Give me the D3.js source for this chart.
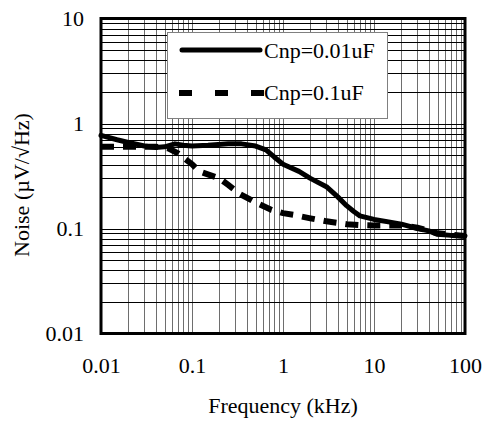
<!DOCTYPE html>
<html><head><meta charset="utf-8">
<script src="https://cdn.jsdelivr.net/npm/d3@7"></script>
<style>
html,body{margin:0;padding:0;background:#fff;}
svg{display:block;}
text{font-family:"Liberation Serif","Times New Roman",serif;fill:#000;}
</style></head>
<body>
<svg id="chart" width="486" height="423"></svg>
<script>
// ---- data ----
const xTickValues = [0.01, 0.1, 1, 10, 100];
const xTickLabels = ["0.01", "0.1", "1", "10", "100"];
const yTickValues = [0.01, 0.1, 1, 10];
const yTickLabels = ["0.01", "0.1", "1", "10"];

const seriesNames = ["Cnp=0.01uF", "Cnp=0.1uF"];

const freqSolid  = [0.01, 0.015, 0.02, 0.03, 0.04, 0.05, 0.065, 0.08, 0.1, 0.15, 0.25, 0.35, 0.5, 0.65, 0.8, 1, 1.5, 2, 3, 4, 5, 6, 7, 10, 15, 20, 30, 40, 50, 70, 100];
const noiseSolid = [0.77, 0.7, 0.66, 0.61, 0.59, 0.6, 0.64, 0.62, 0.61, 0.62, 0.64, 0.64, 0.61, 0.56, 0.48, 0.41, 0.35, 0.3, 0.25, 0.2, 0.165, 0.145, 0.132, 0.122, 0.115, 0.11, 0.1, 0.095, 0.088, 0.086, 0.085];

const freqDashed  = [0.01, 0.02, 0.04, 0.055, 0.07, 0.1, 0.12, 0.2, 0.25, 0.33, 0.5, 0.75, 1, 1.3, 2, 3, 5, 7, 10, 20, 30, 50, 100];
const noiseDashed = [0.6, 0.6, 0.6, 0.58, 0.52, 0.41, 0.35, 0.3, 0.26, 0.215, 0.177, 0.15, 0.14, 0.135, 0.125, 0.117, 0.11, 0.108, 0.107, 0.107, 0.102, 0.09, 0.085];

const xLabel = "Frequency (kHz)";
const yLabel = "Noise (\u00B5V/\u221AHz)";

// ---- layout ----
const svg = d3.select("#chart");
const L = 101, R = 465, T = 18.5, B = 333.5;
const x = d3.scaleLog().domain([0.01, 100]).range([L, R]);
const y = d3.scaleLog().domain([0.01, 10]).range([B, T]);
const FS = 22;

// minor/major grid values
const gridX = [];
for (let e = -2; e < 2; e++) for (let k = 1; k <= 9; k++) gridX.push(k * Math.pow(10, e));
const gridY = [];
for (let e = -2; e < 1; e++) for (let k = 1; k <= 9; k++) gridY.push(k * Math.pow(10, e));

const crisp = v => Math.round(v) + 0.5;

svg.append("g").selectAll("line").data(gridX.filter(v => v > 0.01)).join("line")
  .attr("x1", d => crisp(x(d))).attr("x2", d => crisp(x(d)))
  .attr("y1", T).attr("y2", B)
  .attr("stroke", "#6e6e6e").attr("stroke-width", 1);

svg.append("g").selectAll("line").data(gridY.filter(v => v > 0.01)).join("line")
  .attr("y1", d => crisp(y(d))).attr("y2", d => crisp(y(d)))
  .attr("x1", L).attr("x2", R)
  .attr("stroke", "#000").attr("stroke-width", 1);

// legend box (drawn over grid)
const lg = svg.append("g");
lg.append("rect").attr("x", 167.5).attr("y", 32.5).attr("width", 220).attr("height", 86)
  .attr("fill", "#fff").attr("stroke", "#808080").attr("stroke-width", 1);

// curves
const line = d3.line().x(d => x(d[0])).y(d => y(d[1]));
const solidData = freqSolid.map((f, i) => [f, noiseSolid[i]]);
const dashedData = freqDashed.map((f, i) => [f, noiseDashed[i]]);

svg.append("path").datum(dashedData).attr("d", line)
  .attr("fill", "none").attr("stroke", "#000").attr("stroke-width", 6)
  .attr("stroke-dasharray", "13,9");
svg.append("path").datum(solidData).attr("d", line)
  .attr("fill", "none").attr("stroke", "#000").attr("stroke-width", 5)
  .attr("stroke-linejoin", "round").attr("stroke-linecap", "round");

// legend entries
lg.append("line").attr("x1", 182).attr("x2", 260).attr("y1", 50).attr("y2", 50)
  .attr("stroke", "#000").attr("stroke-width", 5).attr("stroke-linecap", "round");
lg.append("line").attr("x1", 179).attr("x2", 264).attr("y1", 93).attr("y2", 93)
  .attr("stroke", "#000").attr("stroke-width", 6).attr("stroke-dasharray", "13,23");
lg.selectAll("text").data(seriesNames).join("text")
  .attr("x", 264).attr("y", (d, i) => 58 + i * 42)
  .attr("font-size", FS).text(d => d);

// frame
svg.append("rect").attr("x", L).attr("y", T).attr("width", R - L).attr("height", B - T)
  .attr("fill", "none").attr("stroke", "#000").attr("stroke-width", 3);

// tick labels via axes
const xAxis = d3.axisBottom(x).tickValues(xTickValues).tickFormat((d, i) => xTickLabels[i]).tickSize(0).tickPadding(0);
const gx = svg.append("g").attr("transform", `translate(0,${B})`).call(xAxis);
gx.select(".domain").remove();
gx.selectAll("text").attr("font-size", FS).attr("font-family", "Liberation Serif").attr("dy", null).attr("y", 39);

const yAxis = d3.axisLeft(y).tickValues(yTickValues).tickFormat((d, i) => yTickLabels[i]).tickSize(0).tickPadding(0);
const gy = svg.append("g").attr("transform", `translate(${L},0)`).call(yAxis);
gy.select(".domain").remove();
gy.selectAll("text").attr("font-size", FS).attr("font-family", "Liberation Serif").attr("x", -17).attr("dy", "0.32em");

// axis titles
svg.append("text").attr("x", (L + R) / 2).attr("y", 413).attr("text-anchor", "middle")
  .attr("font-size", FS).text(xLabel);
svg.append("text").attr("transform", "translate(29,185) rotate(-90)").attr("text-anchor", "middle")
  .attr("font-size", FS).text(yLabel);
</script>
</body></html>
